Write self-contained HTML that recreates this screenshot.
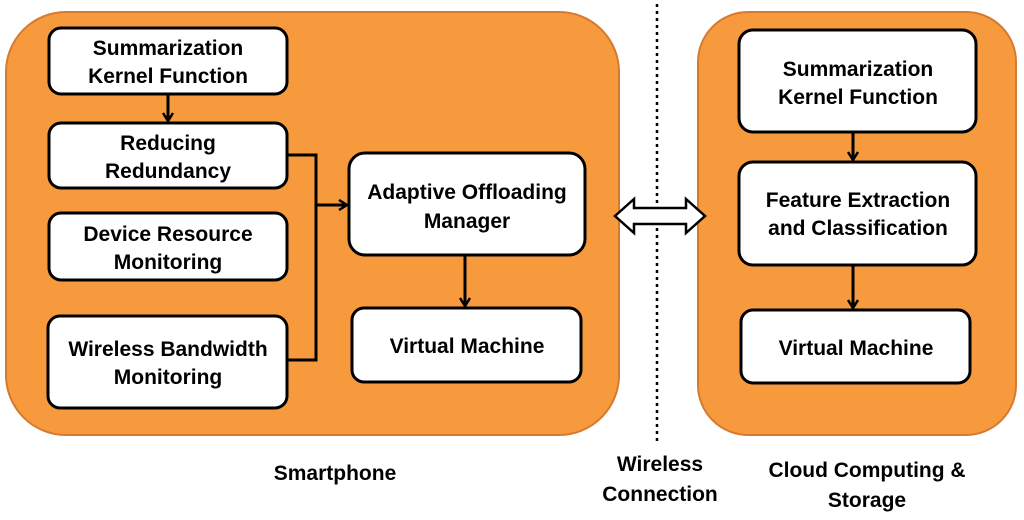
<!DOCTYPE html>
<html><head><meta charset="utf-8"><style>
html,body{margin:0;padding:0;background:#fff}
svg{display:block}
text{font-family:"Liberation Sans",sans-serif;font-weight:bold;font-size:21px;fill:#000;text-anchor:middle}
.b{fill:#fff;stroke:#000;stroke-width:3}
.l{stroke:#000;stroke-width:3;fill:none}
</style></head><body>
<svg width="1024" height="520" viewBox="0 0 1024 520">
<defs><marker id="a" markerWidth="12" markerHeight="12" refX="9" refY="6" orient="auto" markerUnits="userSpaceOnUse"><path d="M1,1 L9,6 L1,11" fill="none" stroke="#000" stroke-width="2.5"/></marker></defs>
<rect x="6" y="12" width="613" height="423" rx="60" fill="#F79A3E" stroke="#D57A2E" stroke-width="2"/>
<rect x="698" y="12" width="318" height="423" rx="50" fill="#F79A3E" stroke="#D57A2E" stroke-width="2"/>
<line x1="657" y1="4" x2="657" y2="442" stroke="#000" stroke-width="2.5" stroke-dasharray="3,4"/>
<rect class="b" x="49" y="28" width="238" height="66" rx="12"/>
<text x="168" y="55">Summarization</text><text x="168" y="83">Kernel Function</text>
<rect class="b" x="49" y="123" width="238" height="65" rx="12"/>
<text x="168" y="150">Reducing</text><text x="168" y="178">Redundancy</text>
<rect class="b" x="49" y="213" width="238" height="67" rx="12"/>
<text x="168" y="241">Device Resource</text><text x="168" y="269">Monitoring</text>
<rect class="b" x="48" y="316" width="239" height="92" rx="12"/>
<text x="168" y="356">Wireless Bandwidth</text><text x="168" y="384">Monitoring</text>
<rect class="b" x="349" y="153" width="236" height="102" rx="16"/>
<text x="467" y="199">Adaptive Offloading</text><text x="467" y="228">Manager</text>
<rect class="b" x="352" y="308" width="229" height="74" rx="12"/>
<text x="467" y="353">Virtual Machine</text>
<rect class="b" x="739" y="30" width="237" height="102" rx="14"/>
<text x="858" y="76">Summarization</text><text x="858" y="104">Kernel Function</text>
<rect class="b" x="739" y="162" width="237" height="103" rx="14"/>
<text x="858" y="207">Feature Extraction</text><text x="858" y="235">and Classification</text>
<rect class="b" x="741" y="310" width="229" height="73" rx="12"/>
<text x="856" y="355">Virtual Machine</text>
<line class="l" x1="168" y1="94" x2="168" y2="121" marker-end="url(#a)"/>
<polyline class="l" points="287,155 316,155 316,360 287,360"/>
<line class="l" x1="316" y1="205" x2="347" y2="205" marker-end="url(#a)"/>
<line class="l" x1="465" y1="255" x2="465" y2="306" marker-end="url(#a)"/>
<line class="l" x1="853" y1="132" x2="853" y2="160" marker-end="url(#a)"/>
<line class="l" x1="853" y1="265" x2="853" y2="308" marker-end="url(#a)"/>
<path d="M615,216 L634,199 L634,208 L686,208 L686,199 L705,216 L686,233 L686,224 L634,224 L634,233 Z" fill="#fff" stroke="#000" stroke-width="2.5" stroke-linejoin="miter"/>
<text x="335" y="480">Smartphone</text>
<text x="660" y="471">Wireless</text><text x="660" y="501">Connection</text>
<text x="867" y="477">Cloud Computing &amp;</text><text x="867" y="507">Storage</text>
</svg>
</body></html>
